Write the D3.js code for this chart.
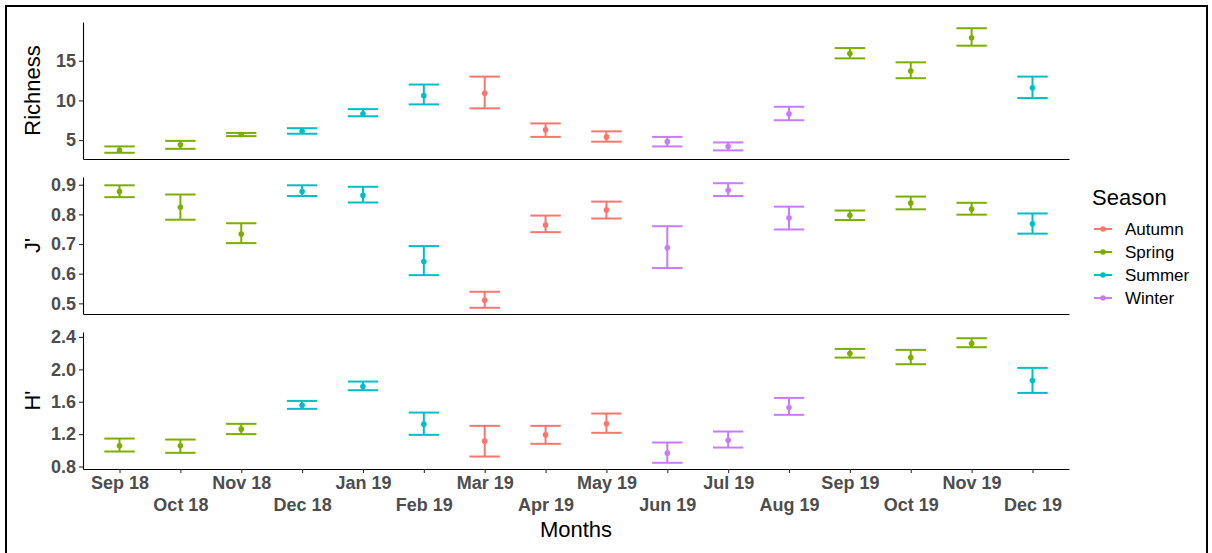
<!DOCTYPE html>
<html>
<head>
<meta charset="utf-8">
<script src="https://cdn.jsdelivr.net/npm/d3@7"></script>
<style>
  body { margin: 0; background: #fff; }
  text { font-family: "Liberation Sans", Arial, sans-serif; }
</style>
</head>
<body>
<svg id="chart"></svg>
<script>
// months on the x axis
var months = ["Sep 18","Oct 18","Nov 18","Dec 18","Jan 19","Feb 19","Mar 19","Apr 19",
              "May 19","Jun 19","Jul 19","Aug 19","Sep 19","Oct 19","Nov 19","Dec 19"];
var seasonOf = ["Spring","Spring","Spring","Summer","Summer","Summer","Autumn","Autumn",
                "Autumn","Winter","Winter","Winter","Spring","Spring","Spring","Summer"];
var seasons = ["Autumn","Spring","Summer","Winter"];

// Richness
var richMean = [3.7, 4.4, 5.7, 6.1, 8.3, 10.6, 10.9, 6.3, 5.4, 4.8, 4.2, 8.3, 15.9, 13.7, 17.9, 11.6];
var richLo   = [3.4, 3.9, 5.5, 5.8, 8.0, 9.5, 9.0, 5.4, 4.8, 4.2, 3.7, 7.5, 15.3, 12.8, 16.9, 10.3];
var richHi   = [4.2, 4.9, 5.9, 6.5, 8.9, 12.0, 13.0, 7.1, 6.1, 5.4, 4.7, 9.2, 16.6, 14.8, 19.1, 13.0];
var richTicks = [5, 10, 15];

// Pielou evenness J'
var jMean = [0.877, 0.824, 0.734, 0.877, 0.864, 0.641, 0.510, 0.764, 0.815, 0.687, 0.881, 0.788, 0.797, 0.838, 0.818, 0.768];
var jLo   = [0.858, 0.782, 0.703, 0.862, 0.840, 0.595, 0.485, 0.740, 0.786, 0.619, 0.862, 0.749, 0.781, 0.817, 0.799, 0.735];
var jHi   = [0.898, 0.867, 0.770, 0.898, 0.893, 0.693, 0.539, 0.796, 0.843, 0.760, 0.905, 0.826, 0.813, 0.860, 0.839, 0.803];
var jTicks = [0.5, 0.6, 0.7, 0.8, 0.9];

// Shannon H'
var hMean = [1.055, 1.055, 1.261, 1.557, 1.787, 1.323, 1.113, 1.191, 1.327, 0.965, 1.125, 1.528, 2.194, 2.145, 2.318, 1.861];
var hLo   = [0.985, 0.969, 1.200, 1.512, 1.742, 1.191, 0.923, 1.080, 1.216, 0.846, 1.034, 1.438, 2.145, 2.063, 2.273, 1.709];
var hHi   = [1.145, 1.133, 1.327, 1.610, 1.849, 1.466, 1.302, 1.302, 1.454, 1.096, 1.232, 1.647, 2.252, 2.240, 2.384, 2.018];
var hTicks = [0.8, 1.2, 1.6, 2.0, 2.4];

var w = 1212, h = 553;
var left = 83, right = 1069;

var svg = d3.select("#chart").attr("width", w).attr("height", h);

svg.append("rect").attr("width", w).attr("height", h).attr("fill", "#fff");
// outer frame
svg.append("rect")
  .attr("x", 6).attr("y", 6).attr("width", 1201).attr("height", 570)
  .attr("fill", "none").attr("stroke", "#000").attr("stroke-width", 2);

var color = d3.scaleOrdinal()
  .domain(seasons)
  .range(["#F8766D", "#7CAE00", "#00BFC4", "#C77CFF"]);

var x = d3.scalePoint().domain(months).range([left, right]).padding(0.6);
var capHalf = x.step() * 0.25;

function drawPanel(top, bottom, mean, lo, hi, ticks, fmt, title, showX) {
  var mn = d3.min(lo), mx = d3.max(hi);
  var pad = (mx - mn) * 0.05;
  var y = d3.scaleLinear().domain([mn - pad, mx + pad]).range([bottom, top]);

  var g = svg.append("g");

  // y axis
  var ya = g.append("g")
    .attr("transform", "translate(" + left + ",0)")
    .call(d3.axisLeft(y).tickValues(ticks).tickFormat(fmt).tickSize(4).tickSizeOuter(0).tickPadding(3));
  ya.select(".domain").attr("stroke", "#000").attr("stroke-width", 1.1);
  ya.selectAll(".tick line").attr("stroke", "#333").attr("stroke-width", 1.1);
  ya.selectAll(".tick text")
    .attr("fill", "#4D4D4D").style("font-size", "18px").style("font-weight", "bold");

  // x axis
  var xa = g.append("g")
    .attr("transform", "translate(0," + bottom + ")")
    .call(d3.axisBottom(x).tickValues(showX ? months : []).tickSize(4).tickSizeOuter(0).tickPadding(4));
  xa.select(".domain").attr("stroke", "#000").attr("stroke-width", 1.1);
  xa.selectAll(".tick line").attr("stroke", "#333").attr("stroke-width", 1.1);
  xa.selectAll(".tick text")
    .attr("fill", "#4D4D4D").style("font-size", "18px").style("font-weight", "bold")
    .attr("y", function(d, i) { return i % 2 == 0 ? 7 : 29; });

  g.append("text")
    .attr("transform", "translate(40," + ((top + bottom) / 2) + ") rotate(-90)")
    .attr("text-anchor", "middle")
    .style("font-size", "22px")
    .attr("fill", "#000")
    .text(title);

  var rows = months.map(function(m, i) {
    return { m: m, s: seasonOf[i], v: mean[i], lo: lo[i], hi: hi[i] };
  });

  var bars = g.selectAll(".eb").data(rows).enter().append("g")
    .attr("stroke", function(d) { return color(d.s); })
    .attr("stroke-width", 2)
    .attr("fill", "none");
  bars.append("line")
    .attr("x1", function(d) { return x(d.m); }).attr("x2", function(d) { return x(d.m); })
    .attr("y1", function(d) { return y(d.lo); }).attr("y2", function(d) { return y(d.hi); });
  bars.append("line")
    .attr("x1", function(d) { return x(d.m) - capHalf; }).attr("x2", function(d) { return x(d.m) + capHalf; })
    .attr("y1", function(d) { return y(d.lo); }).attr("y2", function(d) { return y(d.lo); });
  bars.append("line")
    .attr("x1", function(d) { return x(d.m) - capHalf; }).attr("x2", function(d) { return x(d.m) + capHalf; })
    .attr("y1", function(d) { return y(d.hi); }).attr("y2", function(d) { return y(d.hi); });

  g.selectAll(".pt").data(rows).enter().append("circle")
    .attr("cx", function(d) { return x(d.m); })
    .attr("cy", function(d) { return y(d.v); })
    .attr("r", 2.8)
    .attr("fill", function(d) { return color(d.s); });
}

drawPanel(22, 159, richMean, richLo, richHi, richTicks, d3.format("d"), "Richness", false);
drawPanel(177, 314, jMean, jLo, jHi, jTicks, d3.format(".1f"), "J'", false);
drawPanel(332, 469, hMean, hLo, hHi, hTicks, d3.format(".1f"), "H'", true);

svg.append("text")
  .attr("x", (left + right) / 2).attr("y", 537)
  .attr("text-anchor", "middle")
  .style("font-size", "22px")
  .text("Months");

// legend
var lg = svg.append("g").attr("transform", "translate(1092,0)");
lg.append("text").attr("x", 0).attr("y", 205).style("font-size", "22px").text("Season");
var items = lg.selectAll(".li").data(seasons).enter().append("g")
  .attr("transform", function(d, i) { return "translate(0," + (229 + i * 23) + ")"; });
items.append("line")
  .attr("x1", 2).attr("x2", 20)
  .attr("stroke", function(d) { return color(d); }).attr("stroke-width", 2);
items.append("circle").attr("cx", 11).attr("r", 2.8).attr("fill", function(d) { return color(d); });
items.append("text").attr("x", 33).attr("y", 6).style("font-size", "17px").text(function(d) { return d; });
</script>
</body>
</html>
